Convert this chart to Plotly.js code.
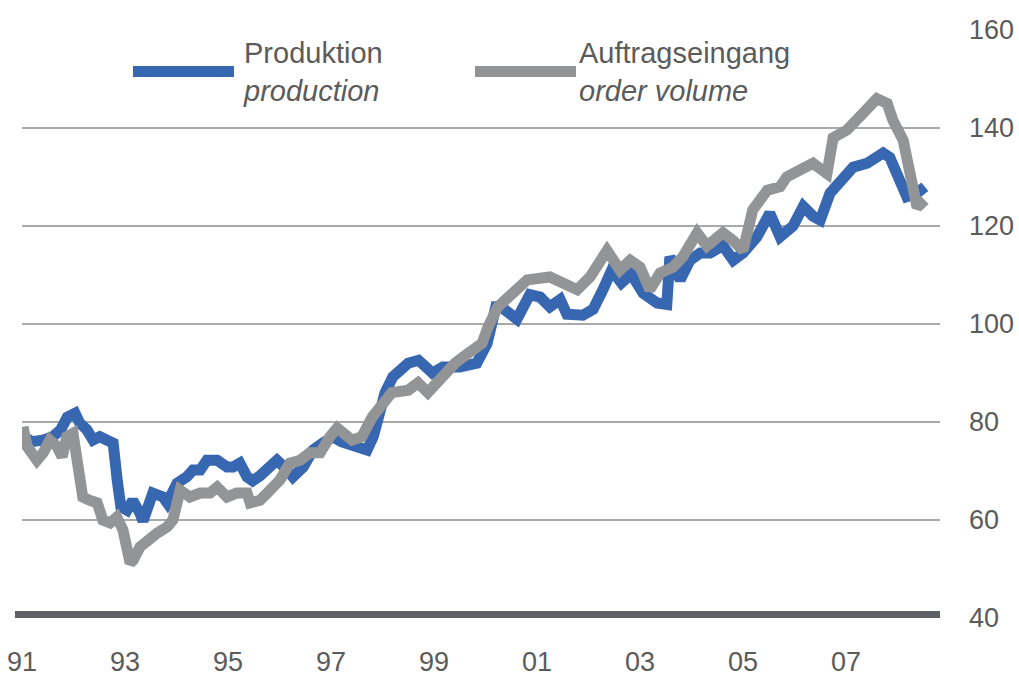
<!DOCTYPE html>
<html>
<head>
<meta charset="utf-8">
<script src="https://cdn.plot.ly/plotly-3.0.1.min.js"></script>
<style>html,body{margin:0;padding:0;background:#fff;}#chart{width:1019px;height:680px;}</style>
</head>
<body>
<div id="chart"></div>
<script>
// Production (Produktion) — decimal year / index value
var prodYear = [1991.02,1991.2,1991.4,1991.6,1991.75,1991.88,
  1992.03,1992.12,1992.26,1992.38,1992.51,1992.65,1992.77,1992.85,1992.92,
  1993.04,1993.15,1993.29,1993.35,1993.54,1993.74,1993.82,
  1994.01,1994.2,1994.32,1994.46,1994.59,1994.79,1994.98,
  1995.1,1995.23,1995.37,1995.48,1995.62,1995.76,1995.95,
  1996.15,1996.26,1996.46,1996.65,1996.84,
  1997.04,1997.2,1997.45,1997.7,1997.82,1997.92,
  1998.05,1998.2,1998.5,1998.7,1998.97,
  1999.17,1999.5,1999.83,
  2000.03,2000.2,2000.3,2000.61,2000.86,
  2001.06,2001.25,2001.45,2001.58,2001.89,
  2002.09,2002.28,2002.45,2002.64,2002.83,
  2003.06,2003.33,2003.52,2003.58,2003.78,2003.97,
  2004.17,2004.36,2004.61,2004.81,
  2005.0,2005.27,2005.52,2005.72,2005.97,
  2006.17,2006.36,2006.5,2006.69,2006.94,
  2007.14,2007.41,2007.72,2007.85,2007.99,
  2008.11,2008.18,2008.38,2008.53];
var prodVal = [77,76,76.3,77,78.4,81,
  81.8,79.8,78.4,76.3,77,76.3,75.7,68,62.7,
  62,64,61.4,59.8,65.5,64.7,63.5,
  67.5,68.8,70.2,70.2,72.2,72.2,70.8,
  70.8,71.6,68.8,68,69,70.2,72.2,
  70.2,68.8,70.8,74.3,75.7,
  77,76,74.9,74.3,77,82,
  86,89.2,92,92.6,90,
  91.2,91.2,92,
  96,103.5,103.5,101,106,
  105.5,103.5,105,102,101.8,
  103,107,111,108.4,110.2,
  106.3,104.3,104,113.7,109,113,
  114.5,114.5,116,113,
  114.5,117.8,122.6,117.8,120,
  124,122,121.2,126.7,129.3,
  132,132.8,134.9,134,130,
  127.3,126,126.7,128];

// Order volume (Auftragseingang)
var ordYear = [1991.02,1991.1,1991.29,1991.41,1991.54,1991.68,1991.78,1991.87,1991.99,
  1992.13,1992.18,1992.32,1992.46,1992.57,1992.71,1992.84,1992.96,
  1993.1,1993.16,1993.29,1993.43,1993.62,1993.82,1993.93,
  1994.07,1994.26,1994.46,1994.65,1994.79,1994.98,
  1995.17,1995.37,1995.43,1995.62,1995.76,1995.87,
  1996.01,1996.2,1996.4,1996.59,1996.79,1996.98,
  1997.12,1997.41,1997.6,1997.8,1997.95,
  1998.18,1998.5,1998.69,1998.88,
  1999.16,1999.41,1999.66,1999.93,
  2000.05,2000.24,2000.53,2000.81,
  2001.25,2001.58,2001.78,
  2002.03,2002.36,2002.61,2002.81,
  2003.0,2003.19,2003.39,2003.64,2003.83,
  2004.11,2004.3,2004.61,2004.81,
  2005.0,2005.19,2005.47,2005.72,2005.85,
  2006.1,2006.36,2006.63,2006.75,
  2007.02,2007.14,2007.33,2007.6,2007.8,2007.91,
  2008.11,2008.18,2008.3,2008.38,2008.53];
var ordVal = [79,75,72.2,73.7,76.3,75,72.9,77,77.7,
  68.8,64.7,64,63.5,60,59.4,60.6,58,
  51.2,51.8,54.5,56,57.3,58.6,60,
  66.1,64.7,65.5,65.5,66.7,64.7,
  65.5,65.5,63.5,64,65.5,66.7,
  68.2,71.6,72.2,73.7,73.7,77,
  78.8,76.3,77,81,83,
  86,86.5,88,86,
  89.2,92,94,96,
  99.4,103.5,106.3,109,
  109.6,108,107,
  109.6,115,111,113,
  111.6,107,110.4,111.6,113.7,
  118.6,115.9,118.6,117,
  115,123.3,127.3,128,130,
  131.4,132.8,130.7,138,
  139.6,141,142.5,146,145,141.6,
  137.5,134,129.3,123.8,125.3];

var xTickVals = [1991,1993,1995,1997,1999,2001,2003,2005,2007];
var xTickText = ['91','93','95','97','99','01','03','05','07'];
var yTickVals = [40,60,80,100,120,140,160];

var seriesNames = ['Produktion', 'Auftragseingang'];
var seriesNamesEn = ['production', 'order volume'];
var blue = '#3767b1', grey = '#939496';
var textCol = '#5b5b5b';
var FONT = 'Liberation Sans, Arial, sans-serif';

var traces = [
  {x: prodYear, y: prodVal, type: 'scatter', mode: 'lines', name: seriesNames[0],
   line: {color: blue, width: 11}, hoverinfo: 'x+y'},
  {x: ordYear, y: ordVal, type: 'scatter', mode: 'lines', name: seriesNames[1],
   line: {color: grey, width: 11}, hoverinfo: 'x+y'}
];

var plotL = 22, plotR = 940, plotT = 30, plotB = 618;
var W = plotR - plotL, H = plotB - plotT;
function px(x) { return (x - plotL) / W; }
function py(y) { return (plotB - y) / H; }

var layout = {
  width: 1019, height: 680,
  margin: {l: plotL, r: 1019 - plotR, t: plotT, b: 680 - plotB, pad: 0},
  paper_bgcolor: '#ffffff', plot_bgcolor: '#ffffff',
  showlegend: false,
  font: {family: FONT, color: textCol, size: 27},
  xaxis: {
    range: [1991, 2008.825], tickmode: 'array', tickvals: xTickVals, ticktext: xTickText,
    showgrid: false, zeroline: false, showline: false, ticks: '',
    ticklabelstandoff: 25, tickfont: {size: 27, color: textCol, family: FONT}
  },
  yaxis: {
    range: [40, 160], side: 'right', tickmode: 'array', tickvals: yTickVals,
    showgrid: true, gridcolor: '#a9a9a9', gridwidth: 1.5, zeroline: false, showline: false,
    ticks: '', ticklabelstandoff: 28, tickfont: {size: 27, color: textCol, family: FONT}
  },
  shapes: [
    {type: 'line', xref: 'paper', yref: 'y', x0: -7 / W, x1: 1, y0: 40.7, y1: 40.7,
     line: {color: '#5f6063', width: 7}},
    {type: 'line', xref: 'paper', yref: 'paper', x0: px(133), x1: px(234), y0: py(71.5), y1: py(71.5),
     line: {color: blue, width: 11}},
    {type: 'line', xref: 'paper', yref: 'paper', x0: px(475), x1: px(576), y0: py(71.5), y1: py(71.5),
     line: {color: grey, width: 11}}
  ],
  annotations: [
    {xref: 'paper', yref: 'paper', x: px(242), y: py(72), xanchor: 'left', yanchor: 'middle',
     align: 'left', showarrow: false, borderpad: 0,
     text: seriesNames[0] + '<br><i>' + seriesNamesEn[0] + '</i>',
     font: {size: 29, color: textCol, family: FONT}},
    {xref: 'paper', yref: 'paper', x: px(578), y: py(72), xanchor: 'left', yanchor: 'middle',
     align: 'left', showarrow: false, borderpad: 0,
     text: seriesNames[1] + '<br><i>' + seriesNamesEn[1] + '</i>',
     font: {size: 29, color: textCol, family: FONT}}
  ]
};

Plotly.newPlot('chart', traces, layout, {displayModeBar: false, staticPlot: true});
</script>
</body>
</html>
